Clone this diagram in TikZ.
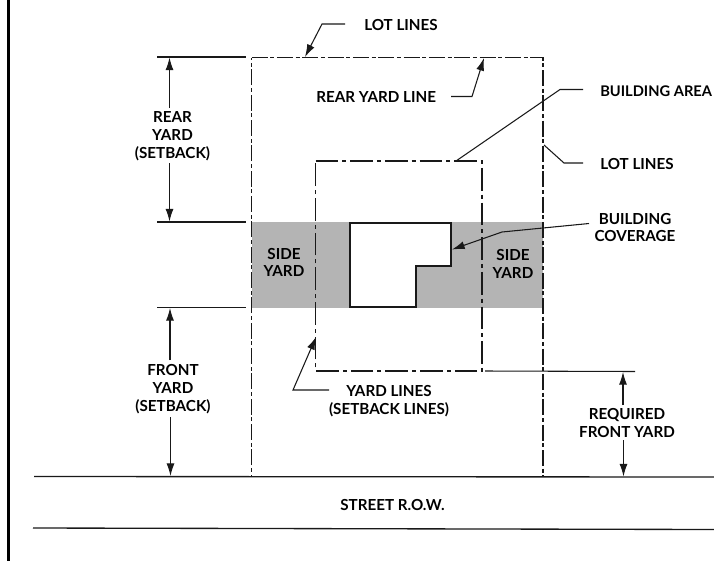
\documentclass[tikz,border=0pt]{standalone}
\usepackage{fontspec}
\setmainfont{Lato}
\usetikzlibrary{arrows.meta,calc,patterns.meta}
\tikzset{
 lbl/.style={font=\fontsize{11.4pt}{13pt}\selectfont\bfseries,inner sep=0pt,align=center,text=black},
 thin line/.style={line width=0.8pt,black!90},
 dim/.style={thin line,-{Latex[length=9.5pt,width=6pt]}},
 lotline/.style={line width=0.9pt,black!90,dash pattern=on 12pt off 2pt on 3pt off 2pt},
 yardline/.style={line width=1.1pt,black!90,dash pattern=on 17pt off 3pt on 3pt off 3pt},
 build/.style={line width=1.2pt,black!90,fill=white,line join=miter},
 shade/.style={fill=black!12,draw=none},
 road/.style={line width=1pt,black!90}
}
\begin{document}
\begin{tikzpicture}[x=0.75pt,y=-0.75pt]
\useasboundingbox (0,0) rectangle (714,561);
\fill[white] (0,0) rectangle (714,561);
\draw[line width=1.7pt,black] (8.5,0) -- (8.5,561);
% shaded side yards
\fill[shade] (252,222) rectangle (543,307.5);
\fill[pattern={Dots[distance=1.5pt,radius=0.42pt]},pattern color=black!85] (252,222) rectangle (543,307.5);
% lot and yard corners
\coordinate (lotNW) at (251.5,57.5);
\coordinate (lotNE) at (543,57.5);
\coordinate (lotSE) at (543,476.5);
\coordinate (lotSW) at (251.5,476.5);
\coordinate (yNW) at (315.5,161);
\coordinate (yNE) at (482,161);
\coordinate (ySE) at (482,371);
\coordinate (ySW) at (315.5,371);
\draw[lotline] (lotNW) -- (lotNE) -- (lotSE) -- (lotSW) -- cycle;
\draw[yardline] (yNW) -- (yNE) -- (ySE) -- (ySW) -- cycle;
% building
\draw[build] (350,223) -- (451,223) -- (451,266) -- (416,266) -- (416,307) -- (350,307) -- cycle;
% street
\coordinate (s1a) at (34,476.5); \coordinate (s1b) at (714,477);
\coordinate (s2a) at (33,528); \coordinate (s2b) at (714,529.5);
\draw[road] (s1a) -- (s1b);
\draw[road] (s2a) -- (s2b);
% extension lines
\coordinate (e1a) at (157,57); \coordinate (e1b) at (246,57);
\coordinate (e2a) at (157,222); \coordinate (e2b) at (246,222);
\coordinate (e3a) at (157,307.5); \coordinate (e3b) at (246,307.5);
\coordinate (e4a) at (485,371); \coordinate (e4b) at (635,371.5);
\draw[thin line] (e1a) -- (e1b);
\draw[thin line] (e2a) -- (e2b);
\draw[thin line] (e3a) -- (e3b);
\draw[thin line] (e4a) -- (e4b);
% labels
\node[lbl] (rear) at (172.5,136) {REAR\\[0.4pt]YARD\\[0.4pt](SETBACK)};
\node[lbl] (front) at (173,389) {FRONT\\[0.4pt]YARD\\[0.4pt](SETBACK)};
\node[lbl] (req) at (627,423) {REQUIRED\\[0.4pt]FRONT YARD};
\node[lbl] (side1) at (284,262.5) {SIDE\\[0.4pt]YARD};
\node[lbl] (side2) at (513,264) {SIDE\\[0.4pt]YARD};
\node[lbl,anchor=west] (lot1) at (364,25) {LOT LINES};
\node[lbl,anchor=west] (rearline) at (316,97) {REAR YARD LINE};
\node[lbl,anchor=west,font=\fontsize{11pt}{13pt}\selectfont\bfseries] (barea) at (600,91) {BUILDING AREA};
\node[lbl,anchor=west] (lot2) at (600,164) {LOT LINES};
\node[lbl] (bcov) at (635,227.5) {BUILDING\\[0.4pt]COVERAGE};
\node[lbl] (ylines) at (389,401.5) {YARD LINES\\[0.4pt](SETBACK LINES)};
\node[lbl] (street) at (392.5,505) {STREET R.O.W.};
% dimension arrows
\draw[dim] (169.5,108) -- (169.5,57.5);
\draw[dim] (169.5,163) -- (169.5,221.5);
\draw[dim] (170,360) -- (170,308);
\draw[dim] (170.5,417) -- (170.5,476);
\draw[dim] (623,405) -- (623,372);
\draw[dim] (623.5,440) -- (623.5,476.5);
% leaders
\draw[dim] (345,24) -- (322,24) -- (305,57);
\draw[dim] (451,96.5) -- (472,96.5) -- (484,58);
\draw[thin line] (583,89.5) -- (560,89.5) -- (456,161);
\draw[thin line] (544,145) -- (564,163) -- (583,163);
\draw[dim] (589,223.5) -- (502,232) -- (452,249.5);
\draw[dim] (329,390) -- (293,390) -- (316,337);
\end{tikzpicture}
\end{document}
